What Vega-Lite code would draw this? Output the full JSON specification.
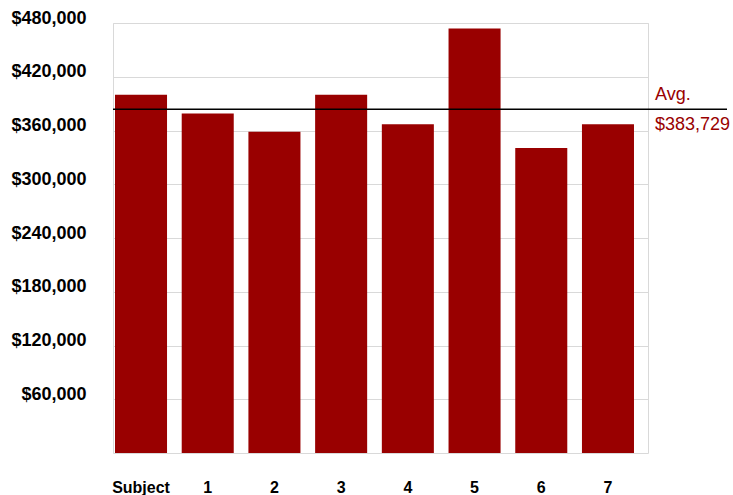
{
  "$schema": "https://vega.github.io/schema/vega-lite/v6.json",
  "width": 535,
  "height": 430,
  "autosize": {"type": "none"},
  "padding": {"left": 113, "top": 23, "right": 85, "bottom": 42},
  "config": {
    "view": {"stroke": "#d9d9d9", "strokeWidth": 1},
    "font": "Liberation Sans"
  },
  "datasets": {
    "bars": [
      {"subject": "Subject", "price": 400000},
      {"subject": "1", "price": 379000},
      {"subject": "2", "price": 358500},
      {"subject": "3", "price": 400000},
      {"subject": "4", "price": 367000},
      {"subject": "5", "price": 474000},
      {"subject": "6", "price": 340500},
      {"subject": "7", "price": 367100}
    ],
    "avg": [{"label": "Avg.", "value": 383729}]
  },
  "layer": [
    {
      "data": {"name": "bars"},
      "mark": {"type": "bar", "color": "#990000"},
      "encoding": {
        "x": {
          "field": "subject",
          "type": "nominal",
          "sort": null,
          "scale": {"paddingInner": 0.22, "paddingOuter": 0.12, "align": 0.125},
          "axis": {
            "title": null,
            "labelAngle": 0,
            "ticks": false,
            "domain": false,
            "grid": false,
            "labelFontSize": 16,
            "labelFontWeight": "bold",
            "labelColor": "#000000",
            "labelPadding": 26
          }
        },
        "y": {
          "field": "price",
          "type": "quantitative",
          "scale": {"domain": [0, 480000], "nice": false, "zero": true},
          "axis": {
            "title": null,
            "values": [60000, 120000, 180000, 240000, 300000, 360000, 420000, 480000],
            "format": "$,.0f",
            "ticks": false,
            "domain": false,
            "grid": true,
            "gridColor": "#d9d9d9",
            "gridWidth": 1,
            "labelFontSize": 18,
            "labelFontWeight": "bold",
            "labelColor": "#000000",
            "labelPadding": 27,
            "labelOffset": -5
          }
        }
      }
    },
    {
      "data": {"name": "avg"},
      "mark": {"type": "rule", "color": "#000000", "strokeWidth": 1.5, "x2Offset": 79},
      "encoding": {
        "y": {"field": "value", "type": "quantitative"},
        "x": {"value": 0},
        "x2": {"value": "width"}
      }
    },
    {
      "data": {"name": "avg"},
      "mark": {"type": "text", "align": "left", "baseline": "alphabetic", "dx": 7, "dy": -9, "fontSize": 18, "color": "#990000"},
      "encoding": {
        "y": {"field": "value", "type": "quantitative"},
        "x": {"value": "width"},
        "text": {"field": "label"}
      }
    },
    {
      "data": {"name": "avg"},
      "mark": {"type": "text", "align": "left", "baseline": "alphabetic", "dx": 7, "dy": 21, "fontSize": 18, "color": "#990000"},
      "encoding": {
        "y": {"field": "value", "type": "quantitative"},
        "x": {"value": "width"},
        "text": {"field": "value", "format": "$,.0f"}
      }
    }
  ]
}
